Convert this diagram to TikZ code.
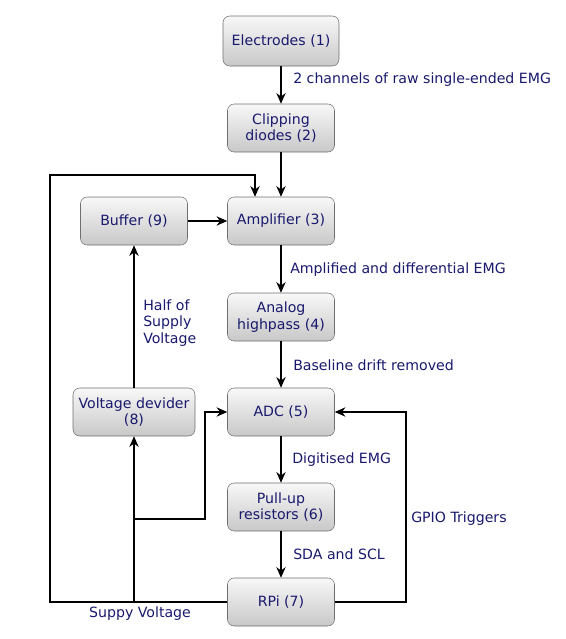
\documentclass[tikz,border=0pt]{standalone}
\usepackage{fontspec}
\setmainfont{DejaVu Sans}
\usetikzlibrary{arrows.meta}
\definecolor{labelblue}{RGB}{25,25,110}
\definecolor{boxtop}{RGB}{248,248,248}
\definecolor{boxbottom}{RGB}{200,200,200}
\definecolor{boxline}{RGB}{110,110,110}
\begin{document}
\begin{tikzpicture}[x=0.75pt, y=-0.75pt,
    block/.style={draw=boxline, rounded corners=5pt, top color=boxtop, bottom color=boxbottom,
      minimum width=80.25pt, minimum height=36pt, align=center, inner sep=2pt,
      text=labelblue, font=\fontsize{10.6}{12.5}\selectfont},
    wire/.style={line width=1pt, -{Stealth[length=8pt,width=7pt]}},
    note/.style={text=labelblue, font=\fontsize{10.6}{12.5}\selectfont, inner sep=0pt}]

    \useasboundingbox (0,0) rectangle (566,639);

    % Main chain (middle column)
    \node[block, minimum width=87pt, minimum height=37.5pt] (elec) at (281, 41) {Electrodes (1)};
    \node[block] (clip) at (281, 128) {Clipping\\diodes (2)};
    \node[block] (amp) at (281, 221) {Amplifier (3)};
    \node[block] (hp) at (281, 317) {Analog\\highpass (4)};
    \node[block] (adc) at (281, 412) {ADC (5)};
    \node[block] (pull) at (281, 507) {Pull-up\\resistors (6)};
    \node[block] (rpi) at (281, 602) {RPi (7)};

    % Left column
    \node[block] (buf) at (134, 221) {Buffer (9)};
    \node[block, minimum width=91.5pt] (vdiv) at (134, 412) {Voltage devider\\(8)};

    % Corner points for the wires
    \coordinate (c1) at (50, 602);
    \coordinate (c2) at (50, 175);
    \coordinate (c3) at (255, 175);
    \coordinate (c4) at (134, 602);
    \coordinate (c5) at (134, 519);
    \coordinate (c6) at (205, 519);
    \coordinate (c7) at (205, 412);
    \coordinate (c8) at (406, 602);
    \coordinate (c9) at (406, 412);

    % Signal path
    \draw[wire] (elec) -- (clip);
    \draw[wire] (clip) -- (amp);
    \draw[wire] (amp) -- (hp);
    \draw[wire] (hp) -- (adc);
    \draw[wire] (adc) -- (pull);
    \draw[wire] (pull) -- (rpi);
    \draw[wire] (buf) -- (amp);
    \draw[wire] (vdiv) -- (buf);

    % Supply lines from the RPi
    \draw[wire] (rpi.west) -- (c1) -- (c2) -- (c3) -- (c3 |- amp.north);
    \draw[wire] (rpi.west) -- (c4) -- (vdiv.south);
    \draw[wire] (c5) -- (c6) -- (c7) -- (adc.west);

    % GPIO triggers
    \draw[wire] (rpi.east) -- (c8) -- (c9) -- (adc.east);

    % Edge labels
    \node[note, anchor=west] (l1) at (293, 80) {2 channels of raw single-ended EMG};
    \node[note, anchor=west] (l2) at (290, 270) {Amplified and differential EMG};
    \node[note, anchor=west] (l3) at (293, 365) {Baseline drift removed};
    \node[note, anchor=west] (l4) at (292, 460) {Digitised EMG};
    \node[note, anchor=west] (l5) at (293, 554) {SDA and SCL};
    \node[note, anchor=west] (l6) at (411, 519) {GPIO Triggers};
    \node[note, anchor=west, align=left] (l7) at (143, 323) {Half of\\Supply\\Voltage};
    \node[note] (l8) at (140, 614) {Suppy Voltage};

\end{tikzpicture}
\end{document}
